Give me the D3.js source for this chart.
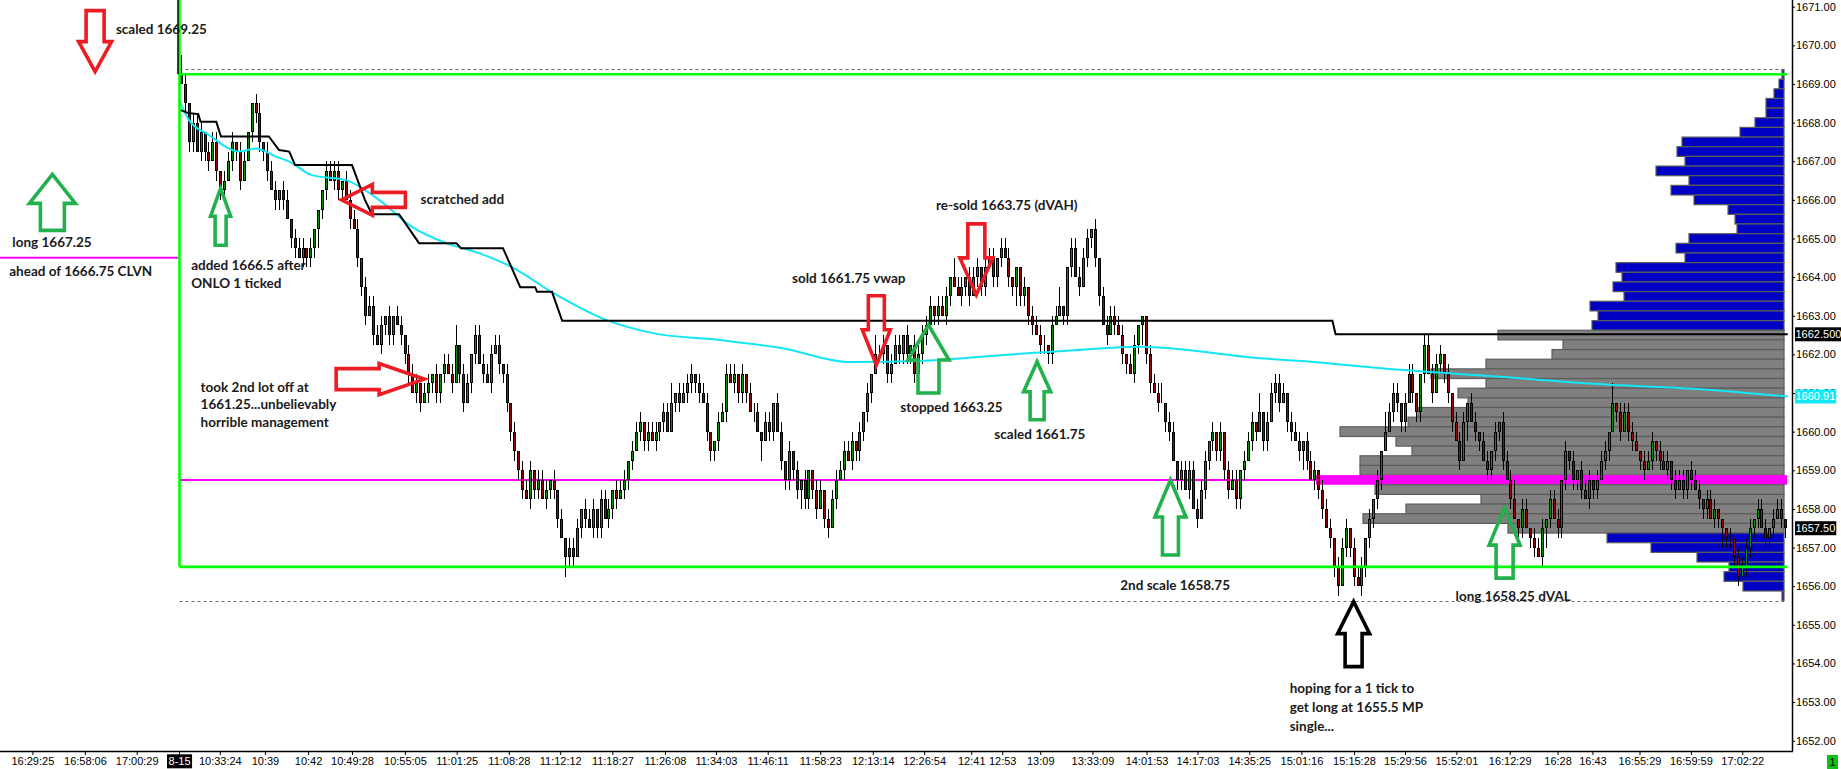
<!DOCTYPE html>
<html>
<head>
<meta charset="utf-8">
<script src="https://cdn.jsdelivr.net/npm/d3@7"></script>
<style>
  body { margin: 0; background: #fff; }
  svg { display: block; }
</style>
</head>
<body>
<svg id="chart"></svg>
<script>
// closes, in ticks above 1650 (1 tick = 0.25 pt), one per tick-bar
const closeTicks = [
  76, 74, 70, 72, 69, 71, 69, 68, 70, 67,
  65, 66, 68, 70, 69, 66, 68, 71, 74, 73,
  70, 69, 67, 65, 64, 65, 64, 62, 60, 59,
  58, 59, 58, 59, 61, 63, 65, 67, 66, 67,
  65, 66, 64, 62, 61, 58, 55, 52, 53, 50,
  49, 51, 52, 50, 52, 51, 50, 48, 46, 44,
  45, 43, 44, 45, 46, 44, 46, 47, 46, 45,
  49, 46, 43, 45, 48, 50, 47, 46, 45, 48,
  49, 47, 46, 43, 40, 38, 36, 34, 33, 36,
  34, 35, 33, 34, 35, 34, 31, 29, 27, 28,
  27, 30, 32, 31, 30, 32, 30, 33, 31, 32,
  34, 33, 34, 35, 37, 38, 40, 41, 39, 40,
  39, 40, 41, 42, 40, 43, 44, 43, 44, 45,
  46, 45, 44, 43, 40, 38, 39, 41, 42, 46,
  45, 46, 44, 46, 44, 42, 42, 40, 39, 41,
  40, 43, 40, 37, 35, 38, 36, 34, 35, 33,
  36, 34, 32, 34, 31, 30, 33, 35, 36, 38,
  37, 39, 38, 40, 42, 44, 46, 48, 48, 49,
  46, 47, 49, 48, 50, 48, 49, 46, 48, 50,
  51, 53, 52, 53, 52, 54, 56, 55, 54, 55,
  56, 54, 56, 57, 55, 57, 58, 56, 58, 59,
  58, 56, 55, 57, 54, 55, 52, 51, 50, 49,
  49, 48, 51, 52, 53, 52, 57, 59, 56, 55,
  58, 60, 61, 58, 54, 51, 50, 52, 51, 50,
  48, 47, 46, 49, 51, 52, 48, 45, 44, 43,
  43, 41, 40, 37, 35, 36, 34, 36, 32, 31,
  34, 37, 39, 40, 38, 40, 36, 34, 35, 33,
  36, 37, 39, 41, 40, 42, 39, 41, 44, 45,
  43, 44, 41, 40, 39, 38, 39, 37, 35, 36,
  34, 32, 30, 29, 26, 24, 28, 30, 28, 25,
  24, 26, 29, 31, 33, 35, 38, 40, 42, 44,
  43, 41, 43, 46, 44, 42, 46, 49, 46, 44,
  47, 48, 46, 44, 41, 39, 37, 41, 43, 41,
  40, 39, 37, 36, 38, 40, 41, 37, 35, 33,
  31, 30, 32, 30, 29, 28, 27, 30, 31, 33,
  31, 30, 35, 38, 37, 35, 36, 34, 33, 35,
  34, 35, 37, 38, 40, 43, 42, 40, 42, 40,
  39, 38, 37, 36, 37, 39, 38, 37, 36, 37,
  35, 34, 35, 34, 36, 35, 34, 33, 32, 33,
  31, 32, 31, 30, 29, 29, 27, 25, 26, 28,
  30, 31, 32, 30, 29, 30, 31, 32, 31, 30
];
const firstOpenTick = 77;
// wick per bar: 0 none, 1 up, 2 down, 3 both, 4 up 2 ticks, 5 down 2 ticks
const wickCodes =
  "4323132313" + "2313231023" + "3231323123" + "1323252313" + "3213132313" +
  "1323213231" + "3213232313" + "4231231313" + "1323232313" + "2313232153" +
  "3123132313" + "2313231323" + "1323142313" + "3231322313" + "1323213151" +
  "3213232353" + "2231231313" + "1323232413" + "2313232313" + "3123132413" +
  "2313231323" + "1325232313" + "3231422313" + "1323213131" + "3213252313" +
  "4231231313" + "1323232313" + "2313242313" + "3123135313" + "2313231323" +
  "1323232413" + "3231322313" + "1323213151" + "3213232313" + "4231231353" +
  "1323232313" + "2313242313" + "3123132313" + "2313231323" + "1325232313" +
  "3231323132";

// VWAP and developing VAH, [bar, price]
const vwapPts = [
  [-0.5, 1668.58], [2.0, 1668.07], [7.1, 1667.68], [14.8, 1667.25], [19.1, 1667.33],
  [24.2, 1667.12], [27.6, 1666.99], [33.4, 1666.64], [42.1, 1666.51], [50.5, 1666.0],
  [58.9, 1665.3], [67.6, 1664.88], [76.0, 1664.62], [84.7, 1664.24], [94.9, 1663.59],
  [107.7, 1662.92], [120.4, 1662.55], [137.5, 1662.37], [152.8, 1662.17], [170.7, 1661.8],
  [188.5, 1661.83], [208.9, 1661.98], [226.8, 1662.1], [244.6, 1662.2], [275.3, 1661.9],
  [285.5, 1661.83], [311, 1661.6], [336.5, 1661.42], [346.7, 1661.34], [367.1, 1661.2],
  [387.5, 1661.1], [409.7, 1660.91]
];
const vahPts = [
  [-0.3, 1668.33], [1.8, 1668.25], [4.4, 1668.22], [5.0, 1668.02], [9.0, 1668.02],
  [10.2, 1667.64], [22.4, 1667.64], [25, 1667.29], [27.6, 1667.25], [29.1, 1666.9],
  [43.6, 1666.9], [46.9, 1666.0], [48.7, 1665.63], [55.6, 1665.63], [60.7, 1664.88],
  [70.2, 1664.88], [71.4, 1664.75], [82.1, 1664.75], [86.5, 1663.74], [90.3, 1663.74],
  [90.8, 1663.62], [94.6, 1663.62], [97.2, 1662.87], [293.6, 1662.87], [294.4, 1662.52],
  [409.7, 1662.52]
];

// volume profile, 1669.25 down to 1655.75
const profilePrices = d3.range(1669.25, 1655.7, -0.25);
const profileVol = [
  2, 5, 10, 18, 18, 29, 44, 102, 107, 99, 128, 95, 113, 90, 56, 49, 47, 95, 108, 99,
  168, 162, 171, 160, 194, 186, 192, 286, 221, 232, 298, 353, 298, 326, 316, 366, 376, 444, 388, 372,
  424, 424, 468, 409, 303, 378, 421, 276, 177, 133, 87, 55, 60, 41, 2
];
const vaHigh = 1662.5, vaLow = 1657.5, poc = 1658.75;
const dayHigh = 1669.375, dayLow = 1655.625;
const greenLevels = [1669.25, 1656.5];
const clvnLeft = 1664.5;

const tickLabels = ['16:29:25','16:58:06','17:00:29','8-15','10:33:24','10:39','10:42','10:49:28',
  '10:55:05','11:01:25','11:08:28','11:12:12','11:18:27','11:26:08','11:34:03','11:46:11','11:58:23',
  '12:13:14','12:26:54','12:41','12:53','13:09','13:33:09','14:01:53','14:17:03','14:35:25','15:01:16',
  '15:15:28','15:29:56','15:52:01','16:12:29','16:28','16:43','16:55:29','16:59:59','17:02:22'];
const tickBars = [-37.9,-24.5,-11.3,-0.5,9.9,21.4,32.4,43.6,57.1,70.3,83.6,96.7,110,123.4,136.4,
  149.6,163,176.4,189.5,201.5,209.4,219.1,232.4,246.2,259.2,272.4,285.7,299.1,312.1,325.2,338.8,
  351,359.9,371.9,385,398.1];

const RED = '#ed1c24', GREEN = '#22b14c';
const arrowNotes = [
  { bar: -21.9, price: 1669.32, dir: 'down', color: RED, len: 61, head: 30, headW: 33, shaftW: 18 },
  { bar: -32.8, price: 1666.66, dir: 'up', color: GREEN, len: 56, head: 29, headW: 46, shaftW: 24 },
  { bar: 10.1, price: 1666.30, dir: 'up', color: GREEN, len: 57, head: 28, headW: 20, shaftW: 11 },
  { bar: 40.9, price: 1666.0, dir: 'left', color: RED, len: 64, head: 31, headW: 31, shaftW: 15 },
  { bar: 62.0, price: 1661.36, dir: 'right', color: RED, len: 88, head: 45, headW: 31, shaftW: 21 },
  { bar: 177.3, price: 1661.73, dir: 'down', color: RED, len: 69, head: 35, headW: 28, shaftW: 16 },
  { bar: 190.6, price: 1662.76, dir: 'up', color: GREEN, len: 68, head: 35, headW: 41, shaftW: 21 },
  { bar: 202.8, price: 1663.54, dir: 'down', color: RED, len: 71, head: 37, headW: 33, shaftW: 17 },
  { bar: 218.3, price: 1661.81, dir: 'up', color: GREEN, len: 58, head: 30, headW: 27, shaftW: 14 },
  { bar: 252.3, price: 1658.75, dir: 'up', color: GREEN, len: 75, head: 37, headW: 31, shaftW: 16 },
  { bar: 299.0, price: 1655.6, dir: 'up', color: '#000', len: 65, head: 32, headW: 32, shaftW: 17 },
  { bar: 337.5, price: 1658.02, dir: 'up', color: GREEN, len: 70, head: 37, headW: 31, shaftW: 17 }
];
const textNotes = [
  { bar: -16.6, price: 1670.29, lines: ['scaled 1669.25'] },
  { bar: -43.0, price: 1664.78, lines: ['long 1667.25'] },
  { bar: -43.8, price: 1664.03, lines: ['ahead of 1666.75 CLVN'] },
  { bar: 2.6, price: 1664.18, lines: ['added 1666.5 after', 'ONLO 1 ticked'] },
  { bar: 61.1, price: 1665.89, lines: ['scratched add'] },
  { bar: 5.0, price: 1661.03, lines: ['took 2nd lot off at', '1661.25...unbelievably', 'horrible management'] },
  { bar: 155.8, price: 1663.84, lines: ['sold 1661.75 vwap'] },
  { bar: 183.4, price: 1660.51, lines: ['stopped 1663.25'] },
  { bar: 192.5, price: 1665.74, lines: ['re-sold 1663.75 (dVAH)'] },
  { bar: 207.4, price: 1659.82, lines: ['scaled 1661.75'] },
  { bar: 239.5, price: 1655.90, lines: ['2nd scale 1658.75'] },
  { bar: 282.7, price: 1653.24, lines: ['hoping for a 1 tick to', 'get long at 1655.5 MP', 'single...'], gap: 19 },
  { bar: 325.0, price: 1655.62, lines: ['long 1658.25 dVAL'] }
];

///// setup
const W = 1841, H = 769;
const axisX = 1792, axisY = 751;
const sessionX = 179.5, profileRight = 1784;
const svg = d3.select('#chart').attr('width', W).attr('height', H)
  .style('font-family', '"Liberation Sans", Arial, sans-serif');

const x = d3.scaleLinear().domain([0, closeTicks.length - 1]).range([181, 1785]);
const y = d3.scaleLinear().domain([1652, 1671]).range([740.7, 6.7]);
const tp = t => 1650 + t / 4;
const half = (y(1652) - y(1652.25)) / 2;

///// volume profile
const pw = d3.scaleLinear().domain([0, d3.max(profileVol)]).range([0, 468]);
const prof = svg.append('g');
profilePrices.forEach((p, i) => {
  const w = pw(profileVol[i]);
  if (p === poc) {
    prof.append('rect').attr('x', profileRight - w).attr('y', y(p) - half)
      .attr('width', w + 3).attr('height', half * 2).attr('fill', '#ff00ff');
    return;
  }
  const inVA = p <= vaHigh && p >= vaLow;
  prof.append('rect')
    .attr('x', profileRight - w).attr('y', y(p) - half)
    .attr('width', w).attr('height', half * 2)
    .attr('fill', inVA ? '#808080' : '#0000c4')
    .attr('stroke', '#5c5c5c').attr('stroke-width', 1.2);
});

///// level lines
svg.append('line').attr('x1', sessionX).attr('x2', 1786)
  .attr('y1', y(poc)).attr('y2', y(poc)).attr('stroke', '#ff00ff').attr('stroke-width', 2);
svg.append('line').attr('x1', 0).attr('x2', 178)
  .attr('y1', y(clvnLeft)).attr('y2', y(clvnLeft)).attr('stroke', '#ff00ff').attr('stroke-width', 2);

///// candles
const bars = closeTicks.map((c, i) => {
  const o = i ? closeTicks[i - 1] : firstOpenTick;
  const code = +wickCodes[i] || 0;
  const up = [0, 1, 0, 1, 2, 0][code], dn = [0, 0, 1, 1, 0, 2][code];
  return { i, o: tp(o), c: tp(c), h: tp(Math.max(o, c) + up), l: tp(Math.min(o, c) - dn) };
});
const candle = svg.append('g').selectAll('g').data(bars).enter().append('g');
candle.append('line')
  .attr('x1', d => Math.round(x(d.i)) + 0.5).attr('x2', d => Math.round(x(d.i)) + 0.5)
  .attr('y1', d => Math.round(y(d.h))).attr('y2', d => Math.round(y(d.l)))
  .attr('stroke', '#000').attr('stroke-width', 1);
candle.append('rect')
  .attr('x', d => Math.round(x(d.i)) - 0.5)
  .attr('y', d => Math.round(y(Math.max(d.o, d.c))) + 0.5)
  .attr('width', 2)
  .attr('height', d => Math.max(0, Math.round(y(Math.min(d.o, d.c))) - Math.round(y(Math.max(d.o, d.c))) - 1))
  .attr('fill', d => d.c >= d.o ? '#0b8a0b' : '#8b0a0a')
  .attr('stroke', '#000').attr('stroke-width', 1);

///// vwap and developing VAH
svg.append('path').datum(vwapPts)
  .attr('d', d3.line().x(d => x(d[0])).y(d => y(d[1])).curve(d3.curveMonotoneX))
  .attr('fill', 'none').attr('stroke', '#12e6f4').attr('stroke-width', 2);
svg.append('path').datum(vahPts)
  .attr('d', d3.line().x(d => x(d[0])).y(d => y(d[1])))
  .attr('fill', 'none').attr('stroke', '#000').attr('stroke-width', 2);

///// session lines
[dayHigh, dayLow].forEach(p => {
  svg.append('line').attr('x1', sessionX).attr('x2', profileRight)
    .attr('y1', Math.round(y(p)) + 0.5).attr('y2', Math.round(y(p)) + 0.5)
    .attr('stroke', '#6a6a6a').attr('stroke-width', 1).attr('stroke-dasharray', '3,3');
});
greenLevels.forEach(p => {
  svg.append('line').attr('x1', sessionX).attr('x2', 1787)
    .attr('y1', y(p)).attr('y2', y(p)).attr('stroke', '#00ff00').attr('stroke-width', 2.6);
});
svg.append('line').attr('x1', sessionX).attr('x2', sessionX)
  .attr('y1', 0).attr('y2', y(greenLevels[1])).attr('stroke', '#00ff00').attr('stroke-width', 2.6);
svg.append('line').attr('x1', 178).attr('x2', 178)
  .attr('y1', 0).attr('y2', y(tp(firstOpenTick))).attr('stroke', '#000').attr('stroke-width', 1.5);

///// arrows
function arrowPath(a) {
  const hw = a.headW / 2, sw = a.shaftW / 2;
  return `M0,0 L${hw},${a.head} L${sw},${a.head} L${sw},${a.len} L${-sw},${a.len} L${-sw},${a.head} L${-hw},${a.head} Z`;
}
const rot = { up: 0, down: 180, left: -90, right: 90 };
svg.append('g').selectAll('path').data(arrowNotes).enter().append('path')
  .attr('d', arrowPath)
  .attr('transform', d => `translate(${x(d.bar)},${y(d.price)}) rotate(${rot[d.dir]})`)
  .attr('fill', 'none').attr('stroke', d => d.color).attr('stroke-width', 3.6)
  .attr('stroke-linejoin', 'miter');

///// annotation texts
const notes = svg.append('g').attr('font-family', 'Lato, "Open Sans", sans-serif')
  .attr('font-weight', 700).attr('font-size', '13.5px').attr('fill', '#1a1a1a');
textNotes.forEach(n => {
  const t = notes.append('text').attr('x', x(n.bar)).attr('y', y(n.price));
  n.lines.forEach((s, k) => {
    t.append('tspan').attr('x', x(n.bar)).attr('dy', k ? (n.gap || 17.5) : 0).text(s);
  });
});

///// axes
const yAxis = d3.axisRight(y).tickValues(d3.range(1652, 1672))
  .tickFormat(d3.format('.2f')).tickSize(3).tickPadding(1);
svg.append('g').attr('transform', `translate(${axisX},0)`).call(yAxis)
  .call(g => g.select('.domain').remove())
  .call(g => g.selectAll('text').attr('font-size', '11px').attr('fill', '#000')
    .attr('font-family', '"Liberation Sans", Arial, sans-serif'));

const xAxis = d3.axisBottom(x).tickValues(tickBars)
  .tickFormat((d, i) => tickLabels[i]).tickSize(4).tickPadding(2);
const xg = svg.append('g').attr('transform', `translate(0,${axisY})`).call(xAxis)
  .call(g => g.select('.domain').remove())
  .call(g => g.selectAll('text').attr('font-size', '11px').attr('fill', '#000')
    .attr('font-family', '"Liberation Sans", Arial, sans-serif'));
xg.selectAll('.tick').filter((d, i) => tickLabels[i] === '8-15').each(function () {
  const tk = d3.select(this), txt = tk.select('text');
  const bb = txt.node().getBBox();
  tk.insert('rect', 'text').attr('x', bb.x - 1.5).attr('y', bb.y - 0.5)
    .attr('width', bb.width + 3).attr('height', bb.height + 2).attr('fill', '#000');
  txt.attr('fill', '#fff');
});

svg.append('line').attr('x1', axisX + 0.5).attr('x2', axisX + 0.5).attr('y1', 0).attr('y2', axisY)
  .attr('stroke', '#000').attr('stroke-width', 1.5);
svg.append('line').attr('x1', 0).attr('x2', axisX + 1).attr('y1', axisY + 0.5).attr('y2', axisY + 0.5)
  .attr('stroke', '#000').attr('stroke-width', 1.5);

///// price tags on right axis
function priceTag(val, label, bg) {
  const g = svg.append('g').attr('transform', `translate(${axisX + 3},${y(val)})`);
  const t = g.append('text').attr('x', 0.5).attr('dy', '0.35em')
    .attr('font-size', '11px').attr('fill', '#fff').text(label);
  const bb = t.node().getBBox();
  g.insert('rect', 'text').attr('x', 0).attr('y', -7).attr('width', bb.width + 1.5)
    .attr('height', 14).attr('fill', bg);
}
priceTag(vahPts[vahPts.length - 1][1], '1662.500', '#000');
priceTag(vwapPts[vwapPts.length - 1][1], d3.format('.2f')(vwapPts[vwapPts.length - 1][1]), '#14e8f5');
priceTag(tp(closeTicks[closeTicks.length - 1]), d3.format('.2f')(tp(closeTicks[closeTicks.length - 1])), '#000');

// small pane counter box, bottom right
svg.append('rect').attr('x', 1827).attr('y', 755).attr('width', 11).attr('height', 14).attr('fill', '#10c010');
svg.append('text').attr('x', 1832.5).attr('y', 766).attr('text-anchor', 'middle')
  .attr('font-size', '11px').attr('fill', '#000').text('1');
</script>
</body>
</html>
